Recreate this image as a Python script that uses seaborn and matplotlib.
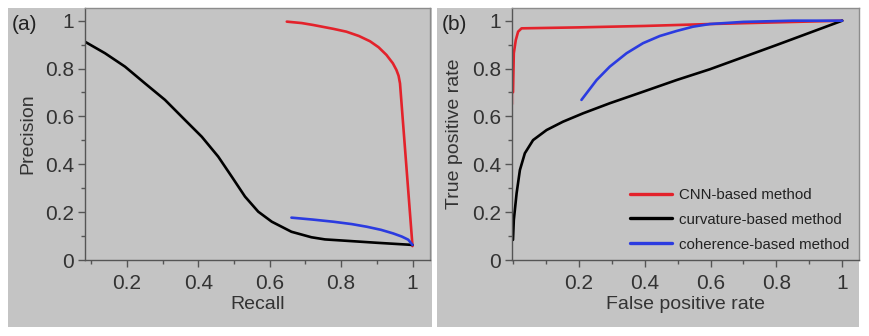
import matplotlib
matplotlib.use("Agg")
import matplotlib.pyplot as plt
from matplotlib.patches import Rectangle
from matplotlib.ticker import MultipleLocator
import seaborn as sns

sns.set_theme(style="white")
plt.rcParams["font.family"] = ["Liberation Sans", "DejaVu Sans"]

# ---- (a) precision-recall curves ----
pr_cnn_recall = [0.648, 0.690, 0.722, 0.778, 0.815, 0.850, 0.881, 0.905, 0.927, 0.945, 0.955, 0.961, 0.965, 1.000]
pr_cnn_precision = [0.996, 0.990, 0.982, 0.966, 0.954, 0.936, 0.914, 0.889, 0.857, 0.822, 0.794, 0.770, 0.738, 0.058]

pr_curv_recall = [0.083, 0.139, 0.195, 0.251, 0.307, 0.363, 0.410, 0.456, 0.494, 0.531, 0.568,
                  0.606, 0.661, 0.717, 0.755, 0.797, 0.900, 1.000]
pr_curv_precision = [0.912, 0.864, 0.808, 0.738, 0.669, 0.585, 0.515, 0.432, 0.348, 0.265, 0.202,
                     0.160, 0.118, 0.095, 0.086, 0.082, 0.072, 0.063]

pr_coh_recall = [0.661, 0.720, 0.778, 0.830, 0.872, 0.912, 0.946, 0.970, 0.988, 1.000]
pr_coh_precision = [0.177, 0.169, 0.160, 0.150, 0.139, 0.126, 0.111, 0.098, 0.085, 0.063]

# ---- (b) ROC curves ----
roc_cnn_fpr = [0.000, 0.000, 0.0025, 0.0085, 0.0155, 0.026, 0.200, 0.400, 0.598, 0.800, 1.000]
roc_cnn_tpr = [0.650, 0.752, 0.864, 0.919, 0.954, 0.968, 0.972, 0.978, 0.986, 0.993, 1.000]

roc_curv_fpr = [0.000, 0.0025, 0.011, 0.021, 0.036, 0.061, 0.102, 0.152, 0.213, 0.294, 0.395,
                0.497, 0.598, 0.700, 0.800, 0.900, 1.000]
roc_curv_tpr = [0.084, 0.167, 0.279, 0.376, 0.446, 0.501, 0.543, 0.578, 0.613, 0.655, 0.703,
                0.752, 0.797, 0.848, 0.898, 0.949, 1.000]

roc_coh_fpr = [0.208, 0.254, 0.294, 0.345, 0.395, 0.446, 0.497, 0.547, 0.598, 0.700, 0.850, 1.000]
roc_coh_tpr = [0.669, 0.752, 0.808, 0.864, 0.906, 0.936, 0.957, 0.975, 0.986, 0.995, 1.000, 1.000]

method_names = ["CNN-based method", "curvature-based method", "coherence-based method"]
colors = ["#e3222b", "#000000", "#2b3be0"]

panel_gray = "#c4c4c4"
text_col = "#333333"

W, H = 869, 336
fig = plt.figure(figsize=(W / 100, H / 100), dpi=100)
fig.patch.set_facecolor("white")

# gray panel backgrounds, kept underneath the axes
for x0, x1 in [(8, 432), (437, 859)]:
    fig.patches.append(Rectangle((x0 / W, 1 - 327 / H), (x1 - x0) / W, 319 / H,
                                 transform=fig.transFigure, facecolor=panel_gray,
                                 edgecolor="none", zorder=-10))

ax_a = fig.add_axes([85 / W, 1 - 260 / H, 345 / W, 252 / H])
ax_b = fig.add_axes([512 / W, 1 - 260 / H, 347 / W, 252 / H])

lw = 1.9
line_kw = dict(sort=False, lw=lw, solid_joinstyle="round", solid_capstyle="round")
sns.lineplot(x=pr_cnn_recall, y=pr_cnn_precision, color=colors[0], ax=ax_a, **line_kw)
sns.lineplot(x=pr_curv_recall, y=pr_curv_precision, color=colors[1], ax=ax_a, **line_kw)
sns.lineplot(x=pr_coh_recall, y=pr_coh_precision, color=colors[2], ax=ax_a, **line_kw)

sns.lineplot(x=roc_cnn_fpr, y=roc_cnn_tpr, color=colors[0], ax=ax_b, label=method_names[0], **line_kw)
sns.lineplot(x=roc_curv_fpr, y=roc_curv_tpr, color=colors[1], ax=ax_b, label=method_names[1], **line_kw)
sns.lineplot(x=roc_coh_fpr, y=roc_coh_tpr, color=colors[2], ax=ax_b, label=method_names[2], **line_kw)

ax_a.set_xlim(0.083, 1.049)
ax_b.set_xlim(-0.003, 1.051)
for ax in (ax_a, ax_b):
    ax.set_ylim(0, 1.053)
    ax.set_facecolor(panel_gray)
    ax.xaxis.set_minor_locator(MultipleLocator(0.1))
    ax.yaxis.set_minor_locator(MultipleLocator(0.1))
    ax.set_xticks([0.2, 0.4, 0.6, 0.8, 1.0])
    ax.set_xticklabels(["0.2", "0.4", "0.6", "0.8", "1"])
    ax.set_yticks([0, 0.2, 0.4, 0.6, 0.8, 1.0])
    ax.set_yticklabels(["0", "0.2", "0.4", "0.6", "0.8", "1"])
    ax.tick_params(which="major", direction="out", length=5, width=1, color="#555555",
                   labelsize=15, labelcolor=text_col, left=True, bottom=True)
    ax.tick_params(which="minor", direction="out", length=3, width=1, color="#555555",
                   left=True, bottom=True)
    ax.tick_params(axis="y", which="major", pad=3)
    ax.tick_params(axis="x", which="major", pad=5)
    for side in ("left", "bottom"):
        ax.spines[side].set_color("#555555")
        ax.spines[side].set_linewidth(1.0)
    for side in ("top", "right"):
        ax.spines[side].set_color("#8c8c8c")
        ax.spines[side].set_linewidth(1.0)

ax_a.set_xlabel("Recall", fontsize=14, color=text_col, labelpad=2)
ax_a.set_ylabel("Precision", fontsize=14, color=text_col, labelpad=6)
ax_b.set_xlabel("False positive rate", fontsize=14, color=text_col, labelpad=2)
ax_b.set_ylabel("True positive rate", fontsize=14, color=text_col, labelpad=6)

leg = ax_b.legend(loc="upper left", bbox_to_anchor=(0.339, 0.286), frameon=False,
                  fontsize=10.8, handlelength=2.8, handletextpad=0.5,
                  labelspacing=0.72, borderpad=0, borderaxespad=0)
for t in leg.get_texts():
    t.set_color("#222222")
for h in leg.get_lines():
    h.set_linewidth(2.4)

fig.text(12 / W, 1 - 24 / H, "(a)", fontsize=15, color="#222222", ha="left", va="center")
fig.text(442 / W, 1 - 24 / H, "(b)", fontsize=15, color="#222222", ha="left", va="center")

fig.savefig("out.png", dpi=100, facecolor="white")
